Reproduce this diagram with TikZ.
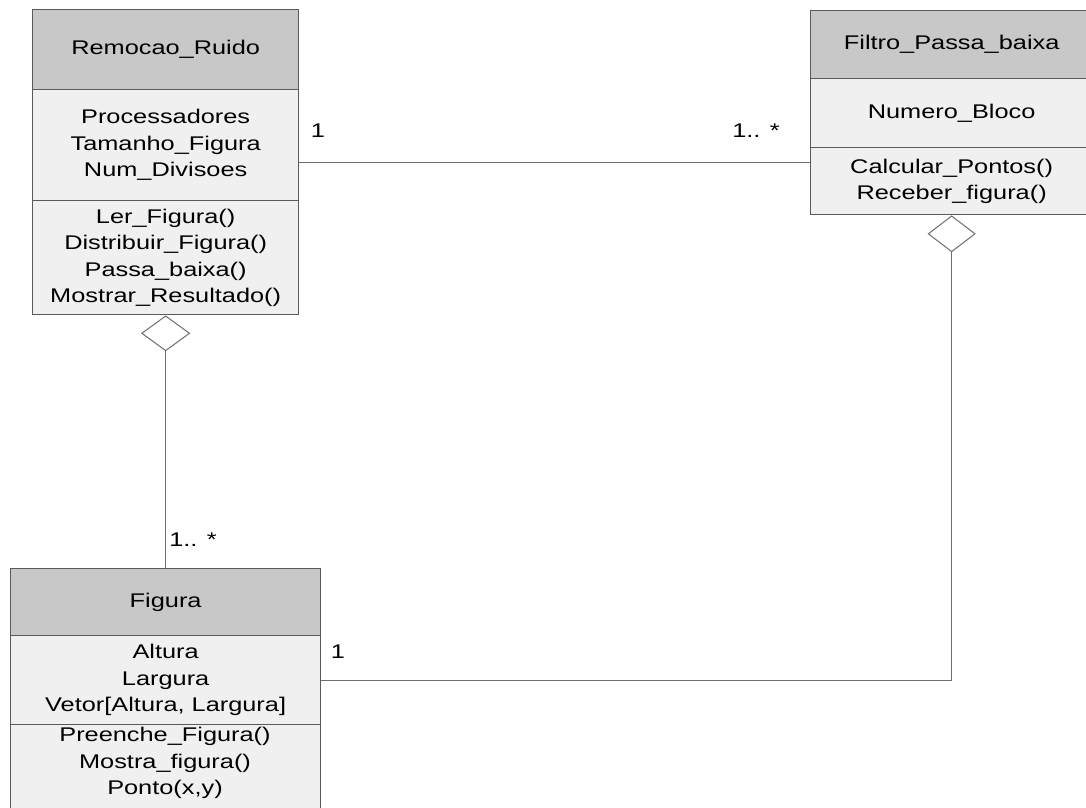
\documentclass[tikz,border=0pt]{standalone}
\usepackage{fontspec}
\setmainfont{Liberation Sans}[FakeStretch=1.28]
\usetikzlibrary{shapes.geometric}
\definecolor{headgray}{HTML}{C8C8C8}
\definecolor{bodygray}{HTML}{F0F0F0}
\definecolor{boxline}{HTML}{5A5A5A}
\definecolor{linkgray}{HTML}{6E6E6E}
\newcommand{\umlfont}{\fontsize{19.8}{26.5}\selectfont}

\begin{document}
\begin{tikzpicture}[x=1pt, y=-1pt,
  part/.style={draw=boxline, line width=1.3pt, rectangle, anchor=north west,
    inner sep=0pt, align=center, font=\umlfont},
  head/.style={part, fill=headgray},
  body/.style={part, fill=bodygray},
  agg/.style={diamond, draw=linkgray, line width=1pt, fill=white,
    minimum width=48pt, minimum height=35pt, inner sep=0pt, anchor=north},
  link/.style={draw=linkgray, line width=1.2pt},
  mult/.style={font=\umlfont, inner sep=0pt}
]
\useasboundingbox (0,0) rectangle (1086,807);
\clip (0,0) rectangle (1086,807);

% class Remocao_Ruido
\node[head, minimum width=266pt, minimum height=80pt] (remhead) at (32,9) {Remocao\_Ruido};
\node[body, minimum width=266pt, minimum height=111pt] (remattr) at (32,89)
  {Processadores\\Tamanho\_Figura\\Num\_Divisoes};
\node[body, minimum width=266pt, minimum height=114pt] (remmeth) at (32,200)
  {Ler\_Figura()\\Distribuir\_Figura()\\Passa\_baixa()\\Mostrar\_Resultado()};
\node[agg] (remdia) at (remmeth.south) {};

% class Filtro_Passa_baixa
\node[head, minimum width=282pt, minimum height=68pt] (filhead) at (810,10) {Filtro\_Passa\_baixa};
\node[body, minimum width=282pt, minimum height=69pt] (filattr) at (810,78) {Numero\_Bloco};
\node[body, minimum width=282pt, minimum height=67pt] (filmeth) at (810,147)
  {Calcular\_Pontos()\\Receber\_figura()};
\node[agg, minimum width=47pt, minimum height=36pt] (fildia) at (filmeth.south) {};

% class Figura
\node[head, minimum width=310pt, minimum height=67pt] (fighead) at (10,568) {Figura};
\node[body, minimum width=310pt, minimum height=89pt] (figattr) at (10,635)
  {Altura\\Largura\\Vetor[Altura, Largura]};
\node[body, minimum width=310pt, minimum height=95pt] (figmeth) at (10,724) {};
\node[font=\umlfont, align=center, inner sep=0pt] (figmethtext) at (165,763)
  {Preenche\_Figura()\\Mostra\_figura()\\Ponto(x,y)};

% associations
\coordinate (remlink) at ([yshift=-17.5pt]remattr.east);
\draw[link] (remlink) -- (remlink -| filmeth.west);
\draw[link] (remdia.south) -- (remdia.south |- fighead.north);
\draw[link] (figattr.east) -| (fildia.south);

% multiplicities
\node[mult] (m1) at (318,131) {1};
\node[mult] (m2) at (756,131) {1.. *};
\node[mult] (m3) at (193,540) {1.. *};
\node[mult] (m4) at (338,652) {1};
\end{tikzpicture}
\end{document}
